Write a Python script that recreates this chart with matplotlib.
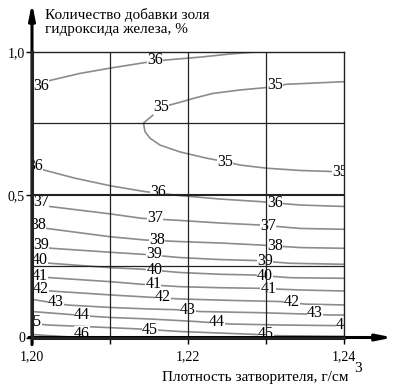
import matplotlib
matplotlib.use('Agg')
import matplotlib.pyplot as plt

plt.rcParams['font.family'] = ['Liberation Serif', 'DejaVu Serif']

# grid / ticks
grid_x = [1.21, 1.22, 1.23]
grid_y = [0.25, 0.5, 0.75]
xticks = [1.20, 1.21, 1.22, 1.23, 1.24]
xticklabels = ['1,20', '', '1,22', '', '1,24']
yticks = [0.0, 0.5, 1.0]
yticklabels = ['0', '0,5', '1,0']

# isolines: (density, additive amount)
iso36_top = [(1.2, 0.884), (1.20256, 0.902), (1.20615, 0.925), (1.21013, 0.944), (1.21449, 0.963),
             (1.21718, 0.972), (1.22154, 0.982), (1.22538, 0.993), (1.22923, 1.001)]
iso35 = [(1.24, 0.896), (1.23269, 0.887), (1.22987, 0.875), (1.22667, 0.867), (1.22321, 0.855),
         (1.2209, 0.839), (1.21897, 0.824), (1.21667, 0.807), (1.21551, 0.779), (1.21429, 0.751),
         (1.21449, 0.721), (1.21513, 0.698), (1.21641, 0.674), (1.21897, 0.650), (1.2224, 0.628),
         (1.22474, 0.616), (1.22667, 0.604), (1.23009, 0.593), (1.2344, 0.585), (1.24, 0.580)]
iso36_low = [(1.2, 0.599), (1.20188, 0.584), (1.20551, 0.558), (1.21013, 0.531), (1.21449, 0.511),
             (1.21897, 0.497), (1.2241, 0.485), (1.22923, 0.476), (1.23436, 0.464), (1.24, 0.459)]
iso37 = [(1.2, 0.4666), (1.20253, 0.458), (1.21013, 0.4326), (1.21406, 0.4175), (1.21897, 0.410),
         (1.2241, 0.401), (1.22923, 0.394), (1.23436, 0.382), (1.24, 0.379)]
iso38 = [(1.2, 0.389), (1.20273, 0.379), (1.21, 0.353), (1.21449, 0.3415), (1.21897, 0.336),
         (1.2241, 0.331), (1.22923, 0.324), (1.23436, 0.315), (1.24, 0.3125)]
iso39 = [(1.2, 0.319), (1.20253, 0.3124), (1.21013, 0.2984), (1.21423, 0.2914), (1.21897, 0.280),
         (1.2241, 0.273), (1.22859, 0.2697), (1.23308, 0.260), (1.24, 0.2564)]
iso40 = [(1.2, 0.266), (1.20231, 0.260), (1.21013, 0.2445), (1.21423, 0.239), (1.21897, 0.2277),
         (1.2241, 0.2214), (1.22833, 0.219), (1.23308, 0.2095), (1.24, 0.2074)]
iso41 = [(1.2, 0.2154), (1.20231, 0.2095), (1.21013, 0.1954), (1.2141, 0.1863), (1.21897, 0.178),
         (1.2241, 0.1744), (1.22897, 0.1723), (1.23436, 0.1664), (1.24, 0.1629)]
iso42 = [(1.2, 0.168), (1.20231, 0.163), (1.21013, 0.149), (1.21513, 0.141), (1.21897, 0.135),
         (1.22538, 0.130), (1.23179, 0.126), (1.235, 0.117), (1.24, 0.114)]
iso43 = [(1.2, 0.1335), (1.20449, 0.1138), (1.21013, 0.1051), (1.21513, 0.0998), (1.21846, 0.0974),
         (1.22154, 0.091), (1.22923, 0.0869), (1.23487, 0.0823), (1.23821, 0.0788), (1.24, 0.0788)]
iso44 = [(1.2, 0.091), (1.20487, 0.0806), (1.20808, 0.0736), (1.21013, 0.070), (1.21513, 0.0648),
         (1.22103, 0.056), (1.22538, 0.0473), (1.23179, 0.0438), (1.24, 0.0413)]
iso45 = [(1.2, 0.049), (1.20205, 0.0438), (1.21013, 0.0343), (1.21385, 0.0298), (1.21897, 0.021),
         (1.22833, 0.0112), (1.23141, 0.0063), (1.24, 0.0042)]
iso46 = [(1.2, 0.0105), (1.20487, 0.0018), (1.20872, -0.0018)]

# label positions on each isoline
lab36_top = [(1.20115, 0.881), (1.21577, 0.972)]
lab35 = [(1.23115, 0.884), (1.21654, 0.807), (1.22474, 0.616), (1.23949, 0.580)]
lab36_low = [(1.20038, 0.601), (1.21615, 0.511), (1.23115, 0.472)]
lab37 = [(1.20115, 0.473), (1.21577, 0.4175), (1.23026, 0.3905)]
lab38 = [(1.20077, 0.394), (1.21603, 0.343), (1.23115, 0.3215)]
lab39 = [(1.20115, 0.324), (1.21564, 0.2925), (1.22987, 0.2697)]
lab40 = [(1.20103, 0.2715), (1.21568, 0.238), (1.22987, 0.2154)]
lab41 = [(1.20103, 0.217), (1.21555, 0.1863), (1.2303, 0.1700)]
lab42 = [(1.20115, 0.1716), (1.2168, 0.1419), (1.23333, 0.1243)]
lab43 = [(1.20308, 0.1243), (1.22, 0.0963), (1.23628, 0.0841)]
lab44 = [(1.20637, 0.0788), (1.22372, 0.0543), (1.24, 0.0438)]
lab45 = [(1.20026, 0.0543), (1.21513, 0.028), (1.23, 0.014)]
lab46 = [(1.20641, 0.012)]

isolines = [(36, iso36_top, lab36_top), (35, iso35, lab35), (36, iso36_low, lab36_low),
            (37, iso37, lab37), (38, iso38, lab38), (39, iso39, lab39), (40, iso40, lab40),
            (41, iso41, lab41), (42, iso42, lab42), (43, iso43, lab43), (44, iso44, lab44),
            (45, iso45, lab45), (46, iso46, lab46)]

W, H = 401, 387
fig = plt.figure(figsize=(W / 100, H / 100), dpi=100)
ax = fig.add_axes([32 / W, 1 - 337.5 / H, 312 / W, 285.5 / H])
ax.set_xlim(1.20, 1.24)
ax.set_ylim(0, 1.0)

for level, pts, labs in isolines:
    xs = [p[0] for p in pts]
    ys = [p[1] for p in pts]
    ax.plot(xs, ys, color='#8c8c8c', lw=1.2, zorder=1)
    for lx, ly in labs:
        ax.text(lx, ly, str(level), fontsize=11.5, ha='center', va='center', zorder=2,
                clip_on=True, bbox=dict(facecolor='white', edgecolor='none', pad=0))

for gx in grid_x:
    ax.axvline(gx, color='#222222', lw=0.9, zorder=3)
for gy in grid_y:
    ax.axhline(gy, color='#222222', lw=1.5 if gy == 0.5 else 0.9, zorder=3)

ax.set_xticks(xticks)
ax.set_xticklabels(xticklabels, fontsize=10)
ax.set_yticks(yticks)
ax.set_yticklabels(yticklabels, fontsize=10)
ax.tick_params(axis='x', length=4, pad=5, width=1)
ax.tick_params(axis='y', length=4, pad=1, width=1)

for s in ax.spines.values():
    s.set_color('#222222')
    s.set_linewidth(1.0)
    s.set_zorder(4)
ax.spines['left'].set_linewidth(2.2)
ax.spines['bottom'].set_linewidth(2.2)

# axis arrows
ax.annotate('', xy=(0, 1.172), xytext=(0, -0.025), xycoords='axes fraction',
            arrowprops=dict(arrowstyle='-|>,head_length=0.9,head_width=0.18', lw=2.2,
                            color='black', shrinkA=0, shrinkB=0), annotation_clip=False)
ax.annotate('', xy=(1.157, 0), xytext=(-0.01, 0), xycoords='axes fraction',
            arrowprops=dict(arrowstyle='-|>,head_length=0.9,head_width=0.18', lw=2.2,
                            color='black', shrinkA=0, shrinkB=0), annotation_clip=False)

fig.text(45 / W, 1 - 8 / H, 'Количество добавки золя\nгидроксида железа, %',
         fontsize=11, ha='left', va='top', linespacing=1.1)
fig.text(349 / W, 1 - 377 / H, 'Плотность затворителя, г/см', fontsize=11,
         ha='right', va='center')
fig.text(358 / W, 1 - 369 / H, '3', fontsize=11, ha='center', va='center')

fig.savefig('out.png', dpi=100)
